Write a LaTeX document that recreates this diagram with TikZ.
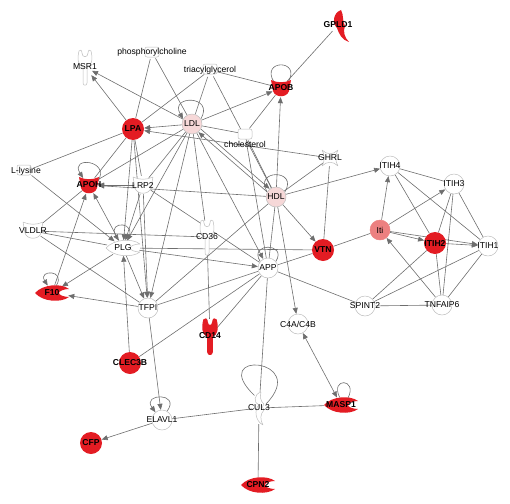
\documentclass[tikz,border=0pt]{standalone}
\usepackage{fontspec}
\setmainfont{Liberation Sans}
\usetikzlibrary{arrows.meta,shapes.geometric}

\definecolor{hitred}{RGB}{227,28,35}
\definecolor{midred}{RGB}{236,128,128}
\definecolor{palered}{RGB}{246,216,216}
\definecolor{edgegray}{RGB}{110,110,110}
\definecolor{rimgray}{RGB}{190,190,190}

\pgfdeclarelayer{edges}
\pgfsetlayers{edges,main}

% outlines of the molecule shapes (x, y, look)
\newcommand{\cupshape}[3]{%
  \path[#3, shift={(#1,#2)}] (-10,-8) .. controls (-4,-5) and (4,-5) .. (10,-8)
    -- (8,3) .. controls (6,10) and (-6,10) .. (-8,3) -- cycle;}
\newcommand{\forkshape}[3]{%
  \path[#3, shift={(#1,#2)}] (-2,16) -- (-2,0) .. controls (-7,-1) and (-8,-8) .. (-6,-16)
    .. controls (-5,-18) and (-3,-17) .. (-3,-14) .. controls (-3,-9) and (3,-9) .. (3,-14)
    .. controls (3,-17) and (5,-18) .. (6,-16) .. controls (8,-8) and (7,-1) .. (2,0)
    -- (2,16) .. controls (2,19) and (-2,19) .. (-2,16) -- cycle;}
\newcommand{\fishshape}[3]{%
  \path[#3, shift={(#1,#2)}] (-17,0) .. controls (-9,-9) and (9,-10) .. (17,-4)
    .. controls (12,-4) and (7,-2) .. (7,0) .. controls (7,2) and (12,4) .. (17,4)
    .. controls (9,10) and (-9,9) .. (-17,0) -- cycle;}
\newcommand{\chembox}[2]{%
  \path[draw=rimgray, line width=0.5pt, fill=white, rounded corners=2pt, shift={(#1,#2)}] (-7,-5) rectangle (7,5);}

\begin{document}
\begin{tikzpicture}[x=1pt, y=-1pt, line join=round, line cap=round]
  \tikzset{
    lbl/.style={font=\fontsize{8.6}{9}\selectfont, inner sep=0pt},
    hitlbl/.style={font=\fontsize{8.6}{9}\selectfont\bfseries, inner sep=0pt},
    tag/.style={label={[lbl]center:#1}},
    boldtag/.style={label={[hitlbl]center:#1}},
    mol/.style={circle, minimum size=20pt, inner sep=0pt, draw=rimgray, line width=0.5pt, fill=white, tag=#1},
    pale/.style={mol=#1, fill=palered},
    mid/.style={mol=#1, fill=midred, draw=midred},
    hit/.style={circle, minimum size=22pt, inner sep=0pt, fill=hitred, boldtag=#1},
    spot/.style={circle, minimum size=#1, inner sep=0pt},
    fishspot/.style={ellipse, minimum width=34pt, minimum height=15pt, inner sep=0pt},
    forkspot/.style={ellipse, minimum width=14pt, minimum height=34pt, inner sep=0pt},
    rim/.style={draw=rimgray, line width=0.5pt, fill=white},
    link/.style={draw=edgegray, line width=0.6pt},
    act/.style={link, -{Triangle[length=6pt, width=5pt]}},
    dual/.style={link, {Triangle[length=6pt, width=5pt]}-{Triangle[length=6pt, width=5pt]}},
  }
  \useasboundingbox (0,0) rectangle (510,503);

  % special shapes
  \cupshape{281}{88}{fill=hitred}
  \cupshape{89}{185}{fill=hitred}
  \cupshape{143}{185}{rim}
  \cupshape{33}{230}{rim}
  \forkshape{85}{67}{rim}
  \forkshape{207}{237}{rim}
  \forkshape{210}{336}{fill=hitred, draw=hitred, line width=1.6pt}
  \fishshape{52}{293}{fill=hitred}
  \fishshape{123}{248}{rim}
  \fishshape{341}{405}{fill=hitred}
  \fishshape{258}{485}{fill=hitred}
  \chembox{152}{52} \chembox{210}{69} \chembox{24}{170} \chembox{245}{134}
  % GHRL
  \path[rim, shift={(330,158)}] (-8,-8) .. controls (-3,-3) and (3,-3) .. (8,-8)
    .. controls (5,-3) and (5,3) .. (8,8) .. controls (3,3) and (-3,3) .. (-8,8)
    .. controls (-5,3) and (-5,-3) .. (-8,-8) -- cycle;
  % CUL3
  \path[rim, shift={(259,408)}] (2,-16) .. controls (-5,-14) and (-6,-5) .. (0,-3)
    .. controls (-5,1) and (-4,13) .. (4,17) .. controls (1,12) and (1,6) .. (5,2)
    .. controls (3,0) and (3,-1) .. (5,-4) .. controls (1,-7) and (1,-12) .. (2,-16) -- cycle;
  % GPLD1
  \path[fill=hitred, shift={(340,26)}] (1,-16) .. controls (-7,-13) and (-8,-3) .. (-3,2)
    .. controls (-1,8) and (2,14) .. (9,16) .. controls (4,11) and (3,5) .. (5,0)
    .. controls (2,-5) and (4,-11) .. (1,-16) -- cycle;

  % molecules
  \node[spot=16pt, boldtag=GPLD1] (GPLD1) at (338,25) {};
  \node[spot=18pt, boldtag=APOB] (APOB) at (281,88) {};
  \node[forkspot, tag=MSR1] (MSR1) at (85,67) {};
  \node[spot=14pt, tag=phosphorylcholine] (phos) at (152,52) {};
  \node[spot=14pt, tag=triacylglycerol] (triac) at (210,70) {};
  \node[hit=LPA] (LPA) at (133,129) {};
  \node[pale=LDL] (LDL) at (192,124) {};
  \node[spot=14pt, label={[lbl]below:cholesterol}] (chol) at (245,134) {};
  \node[spot=16pt, tag=GHRL] (GHRL) at (330,158) {};
  \node[spot=14pt, tag=L-lysine] (Llys) at (26,171) {};
  \node[spot=18pt, boldtag=APOH] (APOH) at (89,185) {};
  \node[spot=18pt, tag=LRP2] (LRP2) at (143,185) {};
  \node[pale=HDL] (HDL) at (276,197) {};
  \node[mol=ITIH4] (ITIH4) at (390,166) {};
  \node[mol=ITIH3] (ITIH3) at (454,184) {};
  \node[spot=18pt, tag=VLDLR] (VLDLR) at (33,231) {};
  \node[fishspot, tag=PLG] (PLG) at (123,248) {};
  \node[forkspot, tag=CD36] (CD36) at (207,237) {};
  \node[mid=Iti] (Iti) at (380,230) {};
  \node[hit=ITIH2] (ITIH2) at (435,243) {};
  \node[mol=ITIH1] (ITIH1) at (488,246) {};
  \node[hit=VTN] (VTN) at (323,250) {};
  \node[mol=APP] (APP) at (268,268) {};
  \node[fishspot, boldtag=F10] (F10) at (52,293) {};
  \node[mol=TFPI] (TFPI) at (148,308) {};
  \node[mol=SPINT2] (SPINT2) at (365,306) {};
  \node[mol=TNFAIP6] (TNFAIP6) at (442,305) {};
  \node[mol=C4A/C4B] (C4) at (298,324) {};
  \node[forkspot, boldtag=CD14] (CD14) at (210,336) {};
  \node[hit=CLEC3B] (CLEC3B) at (130,363) {};
  \node[mol=ELAVL1] (ELAVL1) at (162,420) {};
  \node[ellipse, minimum width=14pt, minimum height=32pt, inner sep=0pt, tag=CUL3] (CUL3) at (259,408) {};
  \node[fishspot, boldtag=MASP1] (MASP1) at (341,405) {};
  \node[hit=CFP] (CFP) at (91,443) {};
  \node[fishspot, boldtag=CPN2] (CPN2) at (258,485) {};

  \begin{pgfonlayer}{edges}
    % binding, no direction
    \foreach \a/\b in {GPLD1/APOB, triac/APOB, chol/APOB, phos/LPA, phos/LDL, triac/LPA,
        triac/LDL, triac/HDL, LDL/chol, chol/HDL, chol/APP, GHRL/HDL, GHRL/VTN, Llys/LPA,
        LPA/APOH, LPA/LRP2, LDL/LRP2, LDL/APOH, APOH/VLDLR, VLDLR/PLG, VLDLR/TFPI,
        VLDLR/CD36, LDL/CD36, CD36/CD14, LRP2/APP, PLG/VTN, TFPI/APP, TFPI/HDL, HDL/APP,
        APP/VTN, APP/SPINT2, APP/CD14, APP/CLEC3B, APP/CUL3, VTN/Iti, ITIH4/ITIH3,
        ITIH4/ITIH2, ITIH4/ITIH1, ITIH3/ITIH2, ITIH3/ITIH1, ITIH3/TNFAIP6, ITIH2/TNFAIP6,
        ITIH2/SPINT2, ITIH1/SPINT2, ITIH1/TNFAIP6, SPINT2/TNFAIP6, CUL3/ELAVL1,
        CUL3/MASP1, CUL3/CPN2}
      \draw[link] (\a) -- (\b);
    % acts on
    \foreach \a/\b in {LDL/APOB, HDL/APOB, LPA/MSR1, LDL/MSR1, LDL/LPA, GHRL/LPA, LRP2/APOH,
        HDL/APOH, F10/APOH, PLG/APOH, Llys/PLG, LPA/PLG, LRP2/PLG, LDL/PLG, LPA/TFPI,
        LRP2/TFPI, PLG/TFPI, LDL/TFPI, PLG/F10, TFPI/F10, CLEC3B/PLG, PLG/APP, LDL/APP,
        HDL/VTN, HDL/C4, HDL/ITIH4, Iti/ITIH4, Iti/ITIH3, Iti/ITIH2, Iti/ITIH1,
        ITIH2/ITIH1, TNFAIP6/Iti, TFPI/ELAVL1, ELAVL1/CFP}
      \draw[act] (\a) -- (\b);
    \draw[act, transform canvas={xshift=1.3pt, yshift=1.5pt}] (LDL) -- (HDL);
    \draw[act, transform canvas={xshift=-1.3pt, yshift=-1.5pt}] (HDL) -- (LDL);
    \draw[dual] (C4) -- (MASP1);

    % self loops
    \draw[link] (APOB.40) .. controls +(14,-23) and +(-14,-23) .. (APOB.140);
    \draw[act] (LDL.30) .. controls +(14,-24) and +(-14,-24) .. (LDL.150);
    \draw[link] (HDL.30) .. controls +(14,-23) and +(-14,-23) .. (HDL.150);
    \draw[act] (APOH.20) .. controls +(14,-22) and +(-14,-22) .. (APOH.130);
    \draw[act] (PLG.60) .. controls +(12,-20) and +(-12,-20) .. (PLG.120);
    \draw[link] (APP.40) .. controls +(12,-19) and +(-12,-19) .. (APP.140);
    \draw[act] (F10.60) .. controls +(10,-16) and +(-10,-16) .. (F10.120);
    \draw[act] (ELAVL1.60) .. controls +(14,-19) and +(-14,-19) .. (ELAVL1.130);
    \draw[link] (MASP1.45) .. controls +(10,-20) and +(-10,-20) .. (MASP1.100);
    \draw[link] (CUL3.30) .. controls +(45,-46) and +(-48,-46) .. (CUL3.110);
  \end{pgfonlayer}
\end{tikzpicture}
\end{document}
